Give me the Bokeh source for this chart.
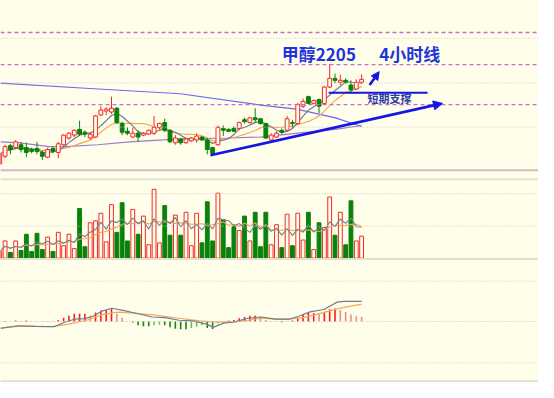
import numpy as np
import pandas as pd
from bokeh.plotting import figure
from bokeh.layouts import column
from bokeh.models import Range1d, Span, Arrow, NormalHead, Label
from bokeh.embed import file_html
from bokeh.resources import INLINE

BG = "#FFFEEA"
RED = "#F42828"
GREEN = "#0A820A"

# ---- price candles (4h bars), price index units ----
open_ = [6, 14, 25, 23, 26, 23, 21, 22, 18, 13, 22, 18, 26, 33, 36, 42, 39, 33, 34, 57,
         61, 60, 64, 48, 40, 34, 38, 36, 37, 38, 44, 49, 41, 28, 32, 28, 30, 31, 34, 31,
         23, 26, 43, 42, 43, 43, 52, 49, 54, 53, 48, 31, 34, 41, 41, 49, 48, 66, 76, 69,
         73, 69, 86, 95, 91, 93, 88, 84, 91]
close = [16, 24, 21, 29, 21, 18, 19, 19, 14, 21, 19, 27, 36, 38, 41, 37, 37, 37, 56, 62,
         63, 64, 49, 39, 38, 38, 34, 38, 41, 44, 48, 41, 29, 33, 28, 32, 33, 35, 31, 21,
         17, 44, 41, 40, 40, 49, 50, 54, 52, 48, 33, 36, 38, 39, 53, 48, 68, 71, 69, 72,
         66, 86, 95, 93, 93, 91, 83, 91, 94]
high = [18, 26, 27, 31, 29, 28, 23, 29, 20, 23, 24, 29, 37, 39, 42, 51, 41, 39, 57, 66,
        65, 76, 65, 50, 44, 44, 41, 39, 42, 56, 49, 53, 42, 36, 33, 33, 34, 38, 35, 33,
        24, 46, 46, 43, 45, 50, 54, 55, 64, 54, 49, 38, 40, 43, 56, 52, 69, 74, 77, 73,
        74, 87, 110, 100, 99, 95, 93, 94, 99]
low = [4, 12, 16, 21, 18, 13, 17, 16, 10, 12, 17, 12, 25, 31, 34, 35, 34, 31, 33, 56,
       57, 58, 48, 36, 36, 33, 29, 35, 36, 36, 42, 39, 28, 26, 26, 27, 29, 28, 30, 16,
       15, 25, 35, 39, 39, 41, 48, 48, 49, 47, 32, 30, 33, 37, 40, 43, 47, 64, 68, 68,
       59, 68, 85, 90, 88, 89, 79, 83, 89]
volume = [7, 18, 6, 18, 8, 25, 7, 26, 9, 22, 7, 27, 13, 25, 10, 52, 12, 37, 39, 47,
          17, 56, 27, 58, 18, 51, 25, 44, 14, 72, 16, 55, 24, 45, 24, 48, 13, 47, 16, 59,
          18, 68, 40, 11, 33, 29, 44, 18, 48, 12, 48, 14, 35, 11, 46, 13, 47, 19, 48, 9,
          37, 32, 64, 24, 48, 14, 60, 18, 23]
macd_hist = [0.3, 0.5, 0.3, 1.0, 0.6, 1.0, 0.3, -0.3, -0.3, 0.3, 0.3, 1.7, 4, 6, 8, 8, 8, 6, 9.4, 11.4,
             12, 13.5, 8.4, 4, 0.3, -1, -4, -5, -5, -4, -3.4, -4, -6, -7.4, -8, -8, -6.7, -5.4, -4, -6.7,
             -7.7, -2, -1, 1, 1.7, 3.4, 4.7, 6, 6, 5, 1.7, 0.3, -0.3, -0.7, 0.3, 1, 4, 7.4, 8.8, 8.8,
             8, 10, 12.8, 13.5, 12, 10, 7.4, 5.4, 4.7]

# long moving averages (bar position, value)
ma_long_x = [0.14, 16.9, 33.9, 49.4, 55.8, 63.1, 68]
ma_long_y = [90, 84.5, 79, 67, 63, 54, 45]
ma_mid_x = [0.14, 3.8, 9.3, 12.4, 18.4, 24.4, 33.9, 43, 49, 56, 63, 68]
ma_mid_y = [29, 28, 24, 24, 26, 29, 32, 33, 34, 38, 42, 46]

# MACD lines
dif_x = [0.14, 3.4, 6.6, 10.2, 12.1, 14, 16, 17.6, 19.2, 21.1, 23.4, 26, 28.6, 31.1, 33.7,
         36.3, 38.9, 40.1, 42.1, 44.1, 46.7, 49.2, 51.8, 54.4, 56.3, 58.3, 60.9, 63.4, 64.7, 68]
dif_y = [-7.1, -4.4, -5.0, -5.4, -1.0, 2.4, 3.0, 5.7, 10.8, 13.8, 11.4, 8.1, 4.7, 4.0, 1.3,
         0.7, -2.7, -6.1, -1.7, -0.3, 3.4, 4.7, 2.4, 2.4, 5.7, 10.1, 12.5, 20.2, 20.9, 20.9]
dea_x = [0.14, 4, 9.8, 13, 16.3, 19.5, 22.1, 24.7, 29.2, 33.7, 37.6, 40.2, 44.1, 46.7,
         49.2, 51.8, 54.4, 57, 59.6, 62.1, 64.7, 68]
dea_y = [-6.7, -4.7, -5.4, -2.7, 1.3, 7.4, 9.8, 9.1, 6.7, 3.4, 0.7, -0.3, -0.3, 1.3,
         3.4, 2.4, 2.4, 4.0, 7.4, 11.4, 14.8, 18.2]

# guide levels
dash_levels = [142.7, 109.3, 67.7]
dot_levels = [136.7, 90.3, 44.3]
vol_dot_levels = [67.5, 33.5]
macd_dot_levels = [42, 0, -43]

title_parts = ["甲醇2205", "4小时线"]
support_text = "短期支撑"

n = len(close)
x = np.arange(n)
o = np.array(open_, float)
c = np.array(close, float)
up = c >= o
xr = Range1d(0.142, 101.24)


def mk(h, y0, y1):
    p = figure(width=538, height=h, x_range=xr, y_range=Range1d(y0, y1),
               output_backend="svg", toolbar_location=None,
               x_axis_location=None, y_axis_location=None,
               min_border=0, min_border_left=0, min_border_right=0,
               min_border_top=0, min_border_bottom=0,
               background_fill_color=BG, border_fill_color=BG,
               outline_line_color=None)
    p.grid.visible = False
    return p


# ---------------- price panel ----------------
p1 = mk(175, -6, 176)
for lv in dot_levels:
    p1.add_layout(Span(location=lv, dimension="width", line_color="#C9C9BE",
                       line_dash="1 2", line_width=1))
for lv in dash_levels:
    p1.add_layout(Span(location=lv, dimension="width", line_color="#C46EC4",
                       line_dash="4 3", line_width=1.3))
p1.add_layout(Span(location=-0.6, dimension="width", line_color="#D8B6C6", line_width=2))

p1.line(ma_long_x, ma_long_y, color="#6A6AEE", line_width=1.2)
p1.line(ma_mid_x, ma_mid_y, color="#9C7CC4", line_width=1.2)
ma5 = pd.Series(c).rolling(5, min_periods=1).mean()
ma10 = pd.Series(c).rolling(10, min_periods=1).mean()
p1.line(x, ma10, color="#F5A860", line_width=1.2)
p1.line(x, ma5, color="#6E7E90", line_width=1.2)

cols = [RED if u else GREEN for u in up]
p1.segment(x, high, x, low, color=cols, line_width=1)
p1.vbar(x[up], width=0.72, top=c[up], bottom=o[up], fill_color=BG,
        line_color=RED, line_width=1)
p1.vbar(x[~up], width=0.72, top=o[~up], bottom=c[~up], fill_color=GREEN,
        line_color=GREEN, line_width=1)

# annotations
BLUE = "#1515E6"
p1.add_layout(Arrow(end=NormalHead(size=9, fill_color=BLUE, line_color=BLUE),
                    x_start=39.6, y_start=15, x_end=83.2, y_end=69,
                    line_color=BLUE, line_width=2.6))
p1.add_layout(Arrow(end=NormalHead(size=8, fill_color=BLUE, line_color=BLUE),
                    x_start=69.5, y_start=88, x_end=71.3, y_end=102,
                    line_color=BLUE, line_width=2.6))
p1.segment([61.8], [80], [80.4], [80], color=BLUE, line_width=2)
for tx, part in zip([53.0, 71.3], title_parts):
    p1.add_layout(Label(x=tx, y=120.5, text=part, text_font="Noto Sans CJK SC",
                        text_font_style="bold", text_font_size="17px", text_color="#2233DD",
                        text_baseline="middle", text_align="left"))
p1.add_layout(Label(x=69.1, y=74.5, text=support_text, text_font="Noto Sans CJK SC",
                    text_font_style="bold", text_font_size="11px", text_color="#2A3AA8",
                    text_baseline="middle", text_align="left"))

# ---------------- volume panel ----------------
p2 = mk(86, -3.5, 86.5)
p2.add_layout(Span(location=82.5, dimension="width", line_color="#E2E2D0", line_width=2))
for lv in vol_dot_levels:
    p2.add_layout(Span(location=lv, dimension="width", line_color="#C9C9BE",
                       line_dash="1 2", line_width=1))
p2.add_layout(Span(location=-1, dimension="width", line_color="#E0E0D0", line_width=2))
v = np.array(volume, float)
p2.vbar(x[up], width=0.72, top=v[up], bottom=0, fill_color=BG, line_color=RED, line_width=1)
p2.vbar(x[~up], width=0.72, top=v[~up], bottom=0, fill_color=GREEN, line_color=GREEN, line_width=1)
vma5 = pd.Series(v).rolling(5, min_periods=1).mean()
vma10 = pd.Series(v).rolling(10, min_periods=1).mean()
p2.line(x, vma10, color="#F5A050", line_width=1.1)
p2.line(x, vma5, color="#6E7E90", line_width=1.1)

# ---------------- MACD panel ----------------
p3 = mk(121, -63.5, 62.5)
for lv in macd_dot_levels:
    p3.add_layout(Span(location=lv, dimension="width", line_color="#C9C9BE",
                       line_dash="1 2", line_width=1))
p3.add_layout(Span(location=-62.3, dimension="width", line_color="#E0E0D0", line_width=2))
hist = np.array(macd_hist, float)
prev = np.concatenate([[0.0], hist[:-1]])
hcols = []
for hv, pv in zip(hist, prev):
    strong = abs(hv) >= abs(pv)
    if hv >= 0:
        hcols.append("#FF1A1A" if strong else "#F28A8A")
    else:
        hcols.append("#118811" if strong else "#6CBF6C")
p3.vbar(x, width=0.3, top=np.maximum(hist, 0), bottom=np.minimum(hist, 0),
        fill_color=hcols, line_color=None)
p3.line(dea_x, dea_y, color="#F5A860", line_width=1.2)
p3.line(dif_x, dif_y, color="#6E7E90", line_width=1.2)

layout = column(p1, p2, p3, spacing=0, styles={"background-color": BG})
open("out.html", "w").write(file_html(layout, INLINE))
